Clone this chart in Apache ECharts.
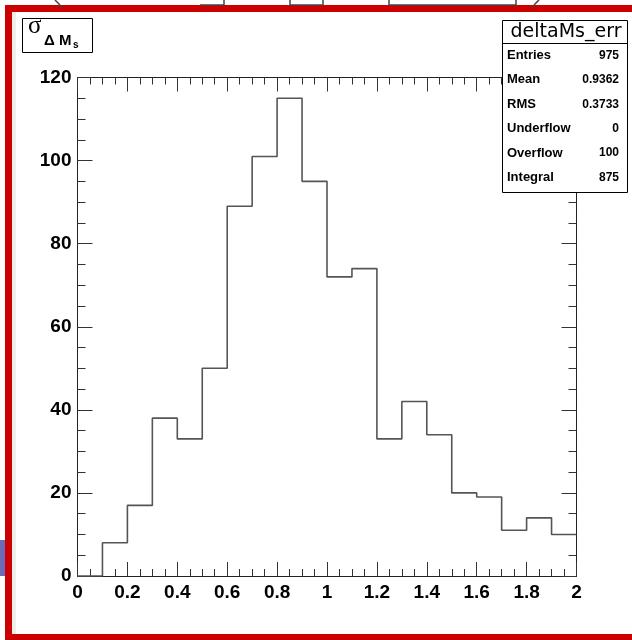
<!DOCTYPE html>
<html>
<head>
<meta charset="utf-8">
<script src="https://cdn.jsdelivr.net/npm/echarts@6/dist/echarts.min.js"></script>
<style>
html,body{margin:0;padding:0;background:#fff;}
#c{width:632px;height:640px;}
</style>
</head>
<body>
<div id="c"></div>
<script>
// Histogram data: bin edges (lower edges + final upper edge) and counts
var binEdges = [0, 0.1, 0.2, 0.3, 0.4, 0.5, 0.6, 0.7, 0.8, 0.9, 1.0, 1.1, 1.2, 1.3, 1.4, 1.5, 1.6, 1.7, 1.8, 1.9, 2.0];
var counts = [0, 8, 17, 38, 33, 50, 89, 101, 115, 95, 72, 74, 33, 42, 34, 20, 19, 11, 14, 10];
var xTicks = ['0', '0.2', '0.4', '0.6', '0.8', '1', '1.2', '1.4', '1.6', '1.8', '2'];
var yTicks = [0, 20, 40, 60, 80, 100, 120];
var statNames = ['Entries', 'Mean', 'RMS', 'Underflow', 'Overflow', 'Integral'];
var statValues = ['975', '0.9362', '0.3733', '0', '100', '875'];
var histName = 'deltaMs_err';

var stepData = binEdges.map(function (e, i) {
  return [e, counts[Math.min(i, counts.length - 1)]];
});

var FONT = '"Liberation Sans", Arial, Helvetica, sans-serif';
var tickCol = '#333';

function axisCommon(showLabel, major, minor, isX) {
  return {
    axisLine: { show: true, onZero: false, lineStyle: { color: '#222', width: 1 } },
    axisTick: { show: true, inside: true, length: major, lineStyle: { color: tickCol, width: 1 } },
    minorTick: { show: true, splitNumber: 4, length: minor, lineStyle: { color: tickCol, width: 1 } },
    splitLine: { show: false },
    axisLabel: {
      show: showLabel,
      color: '#000',
      fontFamily: FONT,
      fontWeight: 'bold',
      fontSize: 19,
      margin: isX ? 7 : 6,
      formatter: function (v) {
        if (isX) {
          var idx = Math.round(v / 0.2);
          return xTicks[idx] !== undefined ? xTicks[idx] : '';
        }
        return String(v);
      }
    }
  };
}

var xBase = { type: 'value', min: 0, max: 2, interval: 0.2 };
var yBase = { type: 'value', min: 0, max: 120, interval: 20 };

var graphics = [];
// red slide frame
graphics.push({ type: 'rect', shape: { x: 12, y: 12, width: 4, height: 622 }, style: { fill: '#efefe9' }, z: 0 });
graphics.push({ type: 'rect', shape: { x: 5, y: 5, width: 640, height: 7 }, style: { fill: '#cc0000' }, z: 100 });
graphics.push({ type: 'rect', shape: { x: 5, y: 5, width: 7, height: 640 }, style: { fill: '#cc0000' }, z: 100 });
graphics.push({ type: 'rect', shape: { x: 5, y: 634, width: 640, height: 10 }, style: { fill: '#cc0000' }, z: 100 });
// purple patch at left edge
graphics.push({ type: 'rect', shape: { x: 0, y: 540, width: 5, height: 36 }, style: { fill: '#6b6bba' }, z: 100 });
// decorations above frame
var deco = [
  [[55, 0], [59, 4], [62, 8]],
  [[200, 5], [224, 5], [224, 0]],
  [[290, 0], [290, 5], [323, 5], [323, 0]],
  [[389, 0], [389, 5], [516, 5], [516, 0]],
  [[539, 0], [535, 4], [532, 8]]
];
deco.forEach(function (pts) {
  graphics.push({ type: 'polyline', shape: { points: pts }, style: { stroke: '#444', lineWidth: 1.5, fill: null }, z: 100 });
});

// title box sigma_{Delta M_s}
graphics.push({ type: 'rect', shape: { x: 22.5, y: 18.5, width: 70, height: 34 }, style: { fill: '#fff', stroke: '#000', lineWidth: 1 }, z: 50 });
graphics.push({ type: 'text', x: 28, y: 14, style: { text: 'σ', fontFamily: '"Liberation Serif", "DejaVu Serif", serif', fontSize: 25, fill: '#000' }, z: 51 });
graphics.push({ type: 'text', x: 44, y: 33, style: { text: 'Δ M', fontFamily: FONT, fontWeight: 'bold', fontSize: 15, fill: '#000' }, z: 51 });
graphics.push({ type: 'text', x: 73, y: 40, style: { text: 's', fontFamily: FONT, fontWeight: 'bold', fontSize: 10, fill: '#000' }, z: 51 });

// stats box
var bx = 502.5, by = 20.5, bw = 125, bh = 172;
graphics.push({ type: 'rect', shape: { x: bx, y: by, width: bw, height: bh }, style: { fill: '#fff', stroke: '#000', lineWidth: 1 }, z: 50 });
graphics.push({ type: 'line', shape: { x1: bx, y1: 43.5, x2: bx + bw, y2: 43.5 }, style: { stroke: '#000', lineWidth: 1 }, z: 51 });
graphics.push({ type: 'text', x: bx + bw / 2 + 1, y: 32, style: { text: histName, fontFamily: '"DejaVu Sans", sans-serif', fontSize: 19, fill: '#000', align: 'center', verticalAlign: 'middle' }, z: 51 });
statNames.forEach(function (n, i) {
  var yy = 55.5 + i * 24.4;
  graphics.push({ type: 'text', x: 507, y: yy, style: { text: n, fontFamily: FONT, fontWeight: 'bold', fontSize: 13, fill: '#000', align: 'left', verticalAlign: 'middle' }, z: 51 });
  graphics.push({ type: 'text', x: 619, y: yy, style: { text: statValues[i], fontFamily: FONT, fontWeight: 'bold', fontSize: 12, fill: '#000', align: 'right', verticalAlign: 'middle' }, z: 51 });
});

var chart = echarts.init(document.getElementById('c'), null, { renderer: 'canvas' });
chart.setOption({
  animation: false,
  backgroundColor: '#fff',
  grid: { left: 77.5, right: 55.5, top: 77.5, bottom: 64, containLabel: false },
  xAxis: [
    Object.assign({}, xBase, axisCommon(true, 14, 7, true), { position: 'bottom' }),
    Object.assign({}, xBase, axisCommon(false, 14, 7, true), { position: 'top' })
  ],
  yAxis: [
    Object.assign({}, yBase, axisCommon(true, 15, 8, false), { position: 'left' }),
    Object.assign({}, yBase, axisCommon(false, 15, 8, false), { position: 'right' })
  ],
  series: [{
    type: 'line',
    xAxisIndex: 0,
    yAxisIndex: 0,
    step: 'end',
    symbol: 'none',
    data: stepData,
    lineStyle: { color: '#555', width: 1.6 },
    z: 5
  }],
  graphic: graphics
});
</script>
</body>
</html>
